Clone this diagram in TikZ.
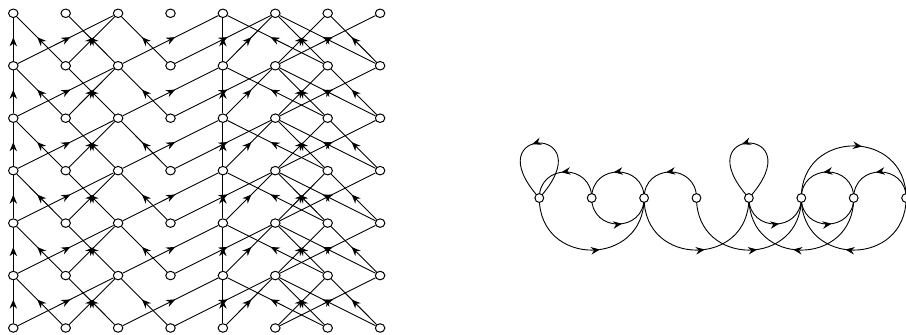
\documentclass[tikz,border=0pt]{standalone}
\usetikzlibrary{arrows.meta,decorations.markings,shapes.geometric,backgrounds}
\begin{document}
\begin{tikzpicture}[x=1pt,y=1pt,
  gnode/.style={ellipse, draw, fill=white, line width=1pt, inner sep=0pt, minimum width=9.5pt, minimum height=8.5pt},
  rnode/.style={circle, draw, fill=white, line width=1pt, inner sep=0pt, minimum size=8.8pt},
  midarrow/.style={postaction={decorate}, decoration={markings, mark=at position #1 with {\arrow{Stealth[length=9pt,width=7.5pt,inset=3pt]}}}},
  midarrow/.default=0.55,
  link/.style={line width=0.9pt, midarrow}]
\useasboundingbox (0,0) rectangle (906,335);
% left: time-expanded graph
\foreach \c in {0,...,7} {
  \foreach \r in {0,...,6} {
    \node[gnode] (L\c-\r) at ({13.3+52.4*\c},{321.7-52.45*\r}) {};
  }
}
% right: the graph
\foreach \c in {0,...,7} {
  \node[rnode] (R\c) at ({539.3+52.4*\c},137) {};
}
\begin{scope}[on background layer]
\foreach \r in {1,...,6} {
  \pgfmathtruncatemacro{\q}{\r-1}
  \foreach \a/\b in {0/0,0/2,1/0,1/2,2/1,2/4,3/2,3/5,4/4,4/5,5/6,5/7,6/5,6/4,7/6,7/5} {
    \draw[link] (L\a-\r) -- (L\b-\q);
  }
}
% self loops
\foreach \n in {0,4} {
  \draw[link=0.53] (R\n.center) .. controls +(48:98.7) and +(132:98.7) .. (R\n.center);
}
% small upper arcs (right to left)
\foreach \a/\b in {1/0,2/1,3/2,6/5,7/6} {
  \draw[link] (R\a.center) to[out=90,in=90,looseness=1.7] (R\b.center);
}
% small lower arcs (left to right)
\foreach \a/\b in {1/2,4/5,5/6} {
  \draw[link] (R\a.center) to[out=-90,in=-90,looseness=1.7] (R\b.center);
}
% big lower arcs
\foreach \a/\b in {0/2,2/4,3/5,6/4,7/5} {
  \draw[link] (R\a.center) to[out=-90,in=-90,looseness=1.7] (R\b.center);
}
% big upper arc
\draw[link] (R5.center) to[out=90,in=90,looseness=1.7] (R7.center);
\end{scope}
\end{tikzpicture}
\end{document}
